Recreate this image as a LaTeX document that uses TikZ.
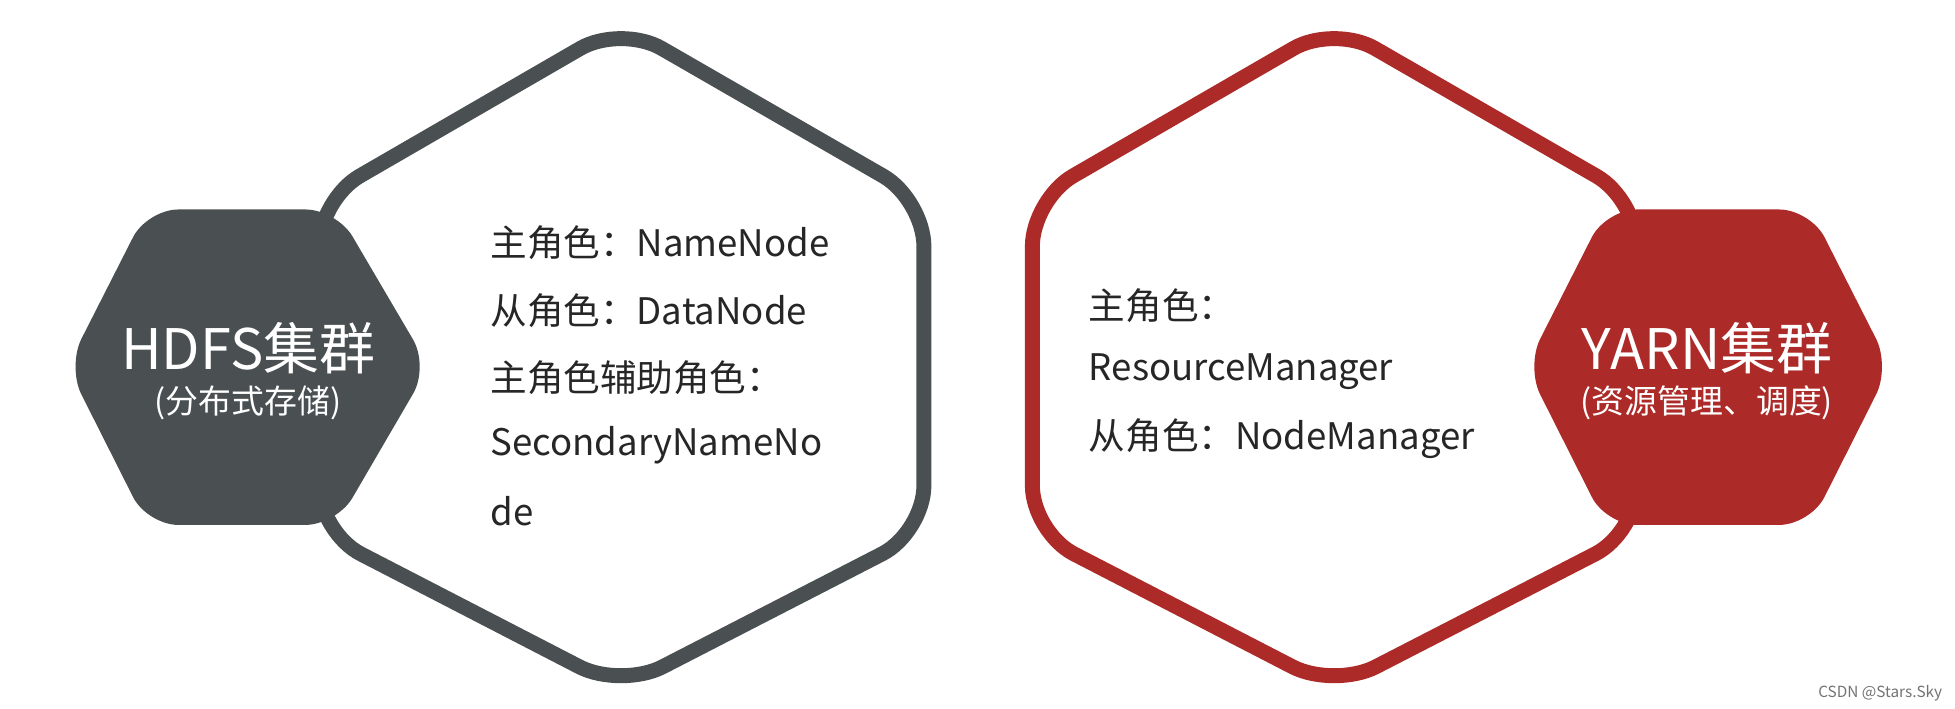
\documentclass[tikz,border=0pt]{standalone}
\usepackage{fontspec}
\setmainfont{Noto Sans CJK SC}
\definecolor{hdfsgray}{HTML}{4A5051}
\definecolor{yarnred}{HTML}{AC2A28}
\tikzset{
  bighex/.style={line width=12*0.02cm, rounded corners=0.75cm, fill=white},
  smallhex/.style={rounded corners=0.5cm},
  role/.style={anchor=west, inner sep=0pt, font=\fontsize{16.7}{18}\selectfont, text=black!85},
  title/.style={text=white, font=\fontsize{25.5}{28}\selectfont, inner sep=0pt},
  subtitle/.style={text=white, font=\fontsize{15}{16}\selectfont, inner sep=0pt}
}
\begin{document}
\begin{tikzpicture}[x=0.02cm, y=-0.02cm]
  \useasboundingbox (0,0) rectangle (1568,568);
  % HDFS
  \draw [bighex, draw=hdfsgray] (498,20) -- (741,160) -- (741,427) -- (498,552) -- (256,427) -- (256,160) -- cycle;
  \fill [smallhex, hdfsgray] (118,168) -- (270,168) -- (344,294) -- (270,421) -- (118,421) -- (54,294) -- cycle;
  \node [title] (hdfs) at (199,279) {HDFS集群};
  \node [subtitle] (hdfssub) at (199,323) {(分布式存储)};
  \node [role] (h1) at (393,195) {主角色：NameNode};
  \node [role] (h2) at (393,249) {从角色：DataNode};
  \node [role] (h3) at (393,303) {主角色辅助角色：};
  \node [role] (h4) at (393,357) {SecondaryNameNo};
  \node [role] (h5) at (393,410) {de};
  % YARN
  \draw [bighex, draw=yarnred] (1070,20) -- (1313,160) -- (1313,427) -- (1070,552) -- (828,427) -- (828,160) -- cycle;
  \fill [smallhex, yarnred] (1288,168) -- (1452,168) -- (1516,294) -- (1452,421) -- (1288,421) -- (1224,294) -- cycle;
  \node [title] (yarn) at (1369,279) {YARN集群};
  \node [subtitle] (yarnsub) at (1369,323) {(资源管理、调度)};
  \node [role] (y1) at (873,245) {主角色：};
  \node [role] (y2) at (873,298) {ResourceManager};
  \node [role] (y3) at (873,352) {从角色：NodeManager};
  \node [anchor=east, inner sep=0pt, text=black!55, font=\fontsize{7}{8}\selectfont] (mark) at (1558,556) {CSDN @Stars.Sky};
\end{tikzpicture}
\end{document}
